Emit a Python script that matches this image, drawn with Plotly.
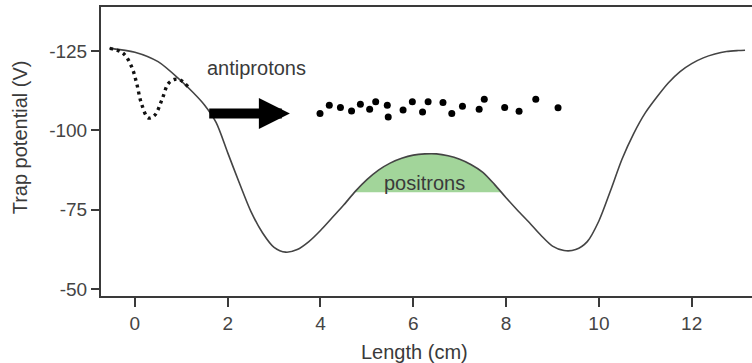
import numpy as np
import plotly.graph_objects as go

# ---- data ----
length_cm = [-0.55, 0.0, 0.5, 1.0, 1.25, 1.5, 1.75, 2.0, 2.25, 2.5, 2.75, 3.0, 3.25, 3.5, 3.75,
             4.0, 4.25, 4.5, 4.75, 5.0, 5.25, 5.5, 5.75, 6.0, 6.25, 6.5, 6.75, 7.0,
             7.25, 7.5, 7.75, 8.0, 8.25, 8.5, 8.75, 9.0, 9.25, 9.5, 9.75, 10.0, 10.25,
             10.5, 10.75, 11.0, 11.25, 11.5, 11.75, 12.0, 12.25, 12.5, 12.75, 13.0, 13.15]
potential_v = [-125.8, -124.6, -121.6, -115.5, -112.0, -108.0, -102.5, -93.0, -83.5, -74.5,
               -67.8, -63.2, -61.7, -62.5, -65.0, -68.5, -72.5, -76.5, -80.8, -84.5, -87.5,
               -89.7, -91.2, -92.2, -92.6, -92.6, -92.0, -90.9, -89.2, -86.8, -83.0,
               -78.8, -74.8, -71.0, -67.0, -63.6, -62.2, -62.5, -65.0, -71.5, -81.0,
               -91.0, -99.0, -105.5, -110.5, -115.0, -118.5, -121.0, -122.8, -124.0,
               -124.8, -125.1, -125.2]

dip_x = [-0.54, -0.25, -0.07, 0.04, 0.14, 0.29, 0.43, 0.58, 0.72, 0.85, 0.97, 1.15]
dip_v = [-125.8, -124.2, -120.0, -114.7, -108.5, -103.9, -104.8, -109.5, -114.7, -116.0,
         -115.9, -113.7]

pbar_x = [3.99, 4.19, 4.43, 4.67, 4.86, 5.06, 5.19, 5.44, 5.46, 5.78, 5.98, 6.20, 6.32,
          6.64, 6.83, 7.06, 7.42, 7.53, 7.97, 8.28, 8.64, 9.12]
pbar_v = [-105.3, -107.9, -107.2, -106.1, -108.2, -106.6, -109.0, -107.9, -104.2, -106.4,
          -109.0, -105.8, -109.0, -108.8, -105.3, -107.6, -106.6, -109.8, -107.2, -106.0,
          -109.8, -107.1]

positron_level = -80.5
arrow_tail = (1.57, -105.3)
arrow_tip = (3.34, -105.3)

x_ticks = [0, 2, 4, 6, 8, 10, 12]
y_ticks = [-125, -100, -75, -50]
y_tick_labels = ["-125", "-100", "-75", "-50"]

# ---- positron fill region (between curve and level, central well) ----
xs = np.array(length_cm)
vs = np.array(potential_v)
left = (xs >= 4.0) & (xs <= 6.5)
right = (xs >= 6.5) & (xs <= 9.0)
xl = float(np.interp(-positron_level, -vs[left], xs[left]))
xr = float(np.interp(positron_level, vs[right], xs[right]))
inside = (xs > xl) & (xs < xr)
fill_x = [xl] + list(xs[inside]) + [xr, xl]
fill_v = [positron_level] + list(vs[inside]) + [positron_level, positron_level]

ink = "#3a3a3a"
font_family = "Liberation Sans, Arial, sans-serif"

fig = go.Figure()
fig.add_trace(go.Scatter(x=fill_x, y=fill_v, fill="toself", fillcolor="#a2d59a",
                         line=dict(width=0), mode="lines", hoverinfo="skip"))
fig.add_trace(go.Scatter(x=length_cm, y=potential_v, mode="lines", line_shape="spline",
                         line=dict(color="#444444", width=1.6, smoothing=0.8)))
fig.add_trace(go.Scatter(x=dip_x, y=dip_v, mode="lines", line_shape="spline",
                         line=dict(color="#111111", width=3.4, dash="3px,4px")))
fig.add_trace(go.Scatter(x=pbar_x, y=pbar_v, mode="markers",
                         marker=dict(color="#000000", size=7)))

fig.add_annotation(x=arrow_tip[0], y=arrow_tip[1], ax=arrow_tail[0], ay=arrow_tail[1],
                   xref="x", yref="y", axref="x", ayref="y", text="", showarrow=True,
                   arrowhead=2, arrowsize=0.62, arrowwidth=10, arrowcolor="#000000",
                   standoff=0)
fig.add_annotation(x=2.63, y=-119.6, xref="x", yref="y", text="antiprotons",
                   showarrow=False, font=dict(size=20, color=ink, family=font_family))
fig.add_annotation(x=6.25, y=-83.6, xref="x", yref="y", text="positrons",
                   showarrow=False, font=dict(size=20, color=ink, family=font_family))
fig.add_annotation(x=0.481, y=-0.194, xref="paper", yref="paper", text="Length (cm)",
                   xanchor="center", yanchor="middle",
                   showarrow=False, font=dict(size=20, color=ink, family=font_family))
fig.add_annotation(x=-0.124, y=0.55, xref="paper", yref="paper", text="Trap potential (V)",
                   textangle=-90, xanchor="center", yanchor="middle", showarrow=False,
                   font=dict(size=20, color=ink, family=font_family))

fig.update_layout(
    width=752, height=363,
    margin=dict(l=101, r=0, t=7, b=67),
    paper_bgcolor="white", plot_bgcolor="white",
    showlegend=False,
    font=dict(family=font_family, size=19, color="#444444"),
)
fig.update_xaxes(range=[-0.73, 13.3], tickvals=x_ticks, ticks="outside", ticklen=9,
                 tickwidth=2, tickcolor=ink, showline=True, linewidth=2, linecolor=ink,
                 mirror=True, showgrid=False, zeroline=False)
fig.update_yaxes(range=[-47.9, -138.8], tickvals=y_ticks, ticktext=y_tick_labels,
                 ticks="outside", ticklen=8,
                 tickwidth=2, tickcolor=ink, showline=True, linewidth=2, linecolor=ink,
                 showgrid=False, zeroline=False)

fig.write_html("out.html")
